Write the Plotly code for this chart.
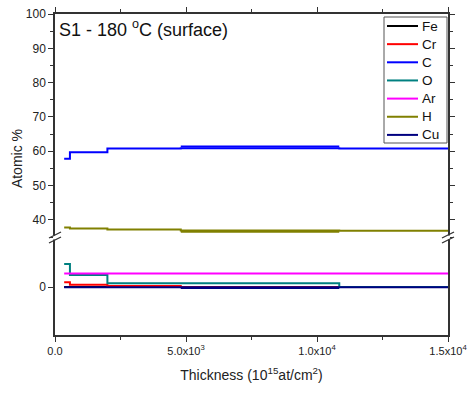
import plotly.graph_objects as go

# ---- data ----
elements = ["Fe", "Cr", "C", "O", "Ar", "H", "Cu"]
colors = ["#000000", "#ff0000", "#0000ff", "#008080", "#ff00ff", "#808000", "#000080"]

x_Fe = [350, 15000];                          Fe = [0.0, 0.0]
x_Cr = [350, 570, 2000, 4800, 15000];         Cr = [1.4, 0.7, 0.3, 0.0, 0.0]
x_C  = [350, 570, 2000, 4800, 10850, 15000];  C  = [57.8, 59.7, 60.8, 60.9, 60.8, 60.8]
x_O  = [350, 570, 2000, 10850, 15000];        O  = [6.8, 3.5, 1.1, 0.0, 0.0]
x_Ar = [350, 15000];                          Ar = [4.0, 4.0]
x_H  = [350, 570, 2000, 4800, 10850, 15000];  H  = [37.8, 37.5, 37.2, 36.9, 36.8, 36.8]
x_Cu = [350, 15000];                          Cu = [-0.1, -0.1]

# overlapping profiles in the middle region (drawn as a second step)
x_over = [4800, 10850]
C_over = [61.4, 61.4]
H_over = [36.5, 36.5]
Cu_over = [-0.3, -0.3]

series_x = [x_Fe, x_Cr, x_C, x_O, x_Ar, x_H, x_Cu]
series_y = [Fe, Cr, C, O, Ar, H, Cu]

x_ticks = [0, 5000, 10000, 15000]
x_ticktext = ["0.0", "5.0x10<sup>3</sup>", "1.0x10<sup>4</sup>", "1.5x10<sup>4</sup>"]

FONT = "Liberation Sans, Arial, sans-serif"

fig = go.Figure()
for name, col, xs, ys in zip(elements, colors, series_x, series_y):
    for ya, xa in (("y", "x2"), ("y2", "x")):
        fig.add_trace(go.Scatter(x=xs, y=ys, mode="lines", line=dict(color=col, width=2, shape="hv"),
                                 name=name, showlegend=False, xaxis=xa, yaxis=ya))

for col, ys, ya, xa in (("#0000ff", C_over, "y", "x2"), ("#808000", H_over, "y", "x2"),
                        ("#000080", Cu_over, "y2", "x")):
    fig.add_trace(go.Scatter(x=x_over, y=ys, mode="lines", line=dict(color=col, width=2),
                             showlegend=False, xaxis=xa, yaxis=ya))

L, R, T, B = 55, 22, 14, 58
W, H_ = 470, 393
pw, ph = W - L - R, H_ - T - B
split = (335 - 237) / ph

axis_common = dict(showline=True, linecolor="#333", linewidth=1.5, ticks="outside", tickcolor="#333",
                   tickfont=dict(family=FONT, size=11, color="#222"), showgrid=False, zeroline=False,
                   automargin=False)

fig.update_layout(
    width=W, height=H_, margin=dict(l=L, r=R, t=T, b=B),
    paper_bgcolor="white", plot_bgcolor="white",
    font=dict(family=FONT, color="#222"),
    showlegend=False,
    xaxis=dict(**axis_common, domain=[0, 1], anchor="y2", range=[0, 15000],
               tickvals=x_ticks, ticktext=x_ticktext, ticklen=5,
               minor=dict(tickvals=[2500, 7500, 12500], ticklen=3, ticks="outside", tickcolor="#333"),
               title=dict(text="Thickness (10<sup>15</sup>at/cm<sup>2</sup>)", font=dict(size=14, family=FONT), standoff=14)),
    xaxis2=dict(**axis_common, domain=[0, 1], anchor="y", side="top", matches="x", range=[0, 15000],
                tickvals=x_ticks, showticklabels=False, ticklen=5,
                minor=dict(tickvals=[2500, 7500, 12500], ticklen=3, ticks="outside", tickcolor="#333")),
    yaxis=dict(**axis_common, domain=[split, 1], anchor="x2", range=[35.0, 100], dtick=10, tick0=0,
               ticklen=5, mirror="ticks",
               minor=dict(dtick=5, tick0=0, ticklen=3, ticks="outside", tickcolor="#333")),
    yaxis2=dict(**axis_common, domain=[0, split], anchor="x", range=[-14.1, 14.7], tickvals=[0],
                ticklen=5, mirror=True),
)
fig.update_yaxes(tickfont=dict(family=FONT, size=12, color="#222"))

fig.add_annotation(text="S1 - 180 <sup>o</sup>C (surface)", xref="paper", yref="paper",
                   x=0.005, y=0.997, xanchor="left", yanchor="top", showarrow=False,
                   font=dict(family=FONT, size=18, color="#111"))
fig.add_annotation(text="Atomic %", xref="paper", yref="paper", x=-0.095, y=0.55,
                   xanchor="center", textangle=-90, showarrow=False,
                   font=dict(family=FONT, size=14, color="#222"))

def px2paper(px, py):
    return (px - L) / pw, (335 - py) / ph

# axis break marks
for cx in (55, 448):
    x0, y0 = px2paper(cx, 237.5)
    fig.add_shape(type="rect", xref="paper", yref="paper", x0=x0 - 2 / pw, x1=x0 + 2 / pw,
                  y0=y0 - 2 / ph, y1=y0 + 2 / ph, line=dict(width=0), fillcolor="white")
    for dy in (-2.5, 2.5):
        x0, y0 = px2paper(cx - 6, 240.5 + dy)
        x1, y1 = px2paper(cx + 6, 234.5 + dy)
        fig.add_shape(type="line", xref="paper", yref="paper", x0=x0, y0=y0, x1=x1, y1=y1,
                      line=dict(color="#333", width=1.3))

# legend box (drawn to match the reference's compact legend)
bx0, by0 = px2paper(384, 17)
bx1, by1 = px2paper(447, 143)
fig.add_shape(type="rect", xref="paper", yref="paper", x0=bx0, y0=by1, x1=bx1, y1=by0,
              line=dict(color="#555", width=1), fillcolor="white", layer="above")
for i, (name, col) in enumerate(zip(elements, colors)):
    yy = 26 + 18.15 * i
    lx0, ly = px2paper(387, yy)
    lx1, _ = px2paper(418, yy)
    fig.add_shape(type="line", xref="paper", yref="paper", x0=lx0, y0=ly, x1=lx1, y1=ly,
                  line=dict(color=col, width=2), layer="above")
    tx, _ = px2paper(420, yy)
    fig.add_annotation(text=name, xref="paper", yref="paper", x=tx, y=ly, xanchor="left",
                       yanchor="middle", showarrow=False, font=dict(family=FONT, size=13.5, color="#111"))

fig.write_html("out.html")
